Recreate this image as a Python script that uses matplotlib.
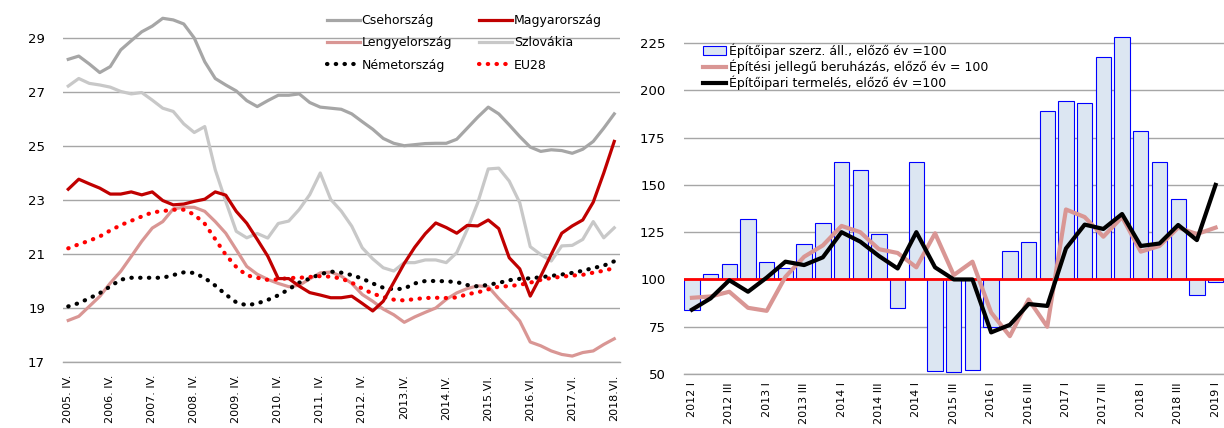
import numpy as np
import matplotlib
matplotlib.use("Agg")
import matplotlib.pyplot as plt
from matplotlib import font_manager
from matplotlib.patches import Patch
from matplotlib.lines import Line2D

# ---------------- data: left chart ----------------
left_ticklabels = ['2005. IV.', '2006. IV.', '2007. IV.', '2008. IV.', '2009. IV.',
                   '2010. IV.', '2011. IV.', '2012. IV.', '2013.IV.', '2014.IV.',
                   '2015.VI.', '2016.VI.', '2017.VI.', '2018.VI.']
cseh = [28.21, 28.33, 28.04, 27.72, 27.94, 28.56, 28.9, 29.23, 29.44, 29.73,
        29.67, 29.52, 29.0, 28.12, 27.5, 27.26, 27.04, 26.68, 26.46, 26.68,
        26.88, 26.88, 26.93, 26.61, 26.44, 26.4, 26.36, 26.19, 25.9, 25.62,
        25.28, 25.1, 25.01, 25.05, 25.09, 25.1, 25.1, 25.25, 25.66, 26.07,
        26.44, 26.19, 25.78, 25.35, 24.96, 24.8, 24.86, 24.83, 24.73, 24.88,
        25.17, 25.66, 26.19]
magyar = [23.4, 23.77, 23.6, 23.44, 23.22, 23.22, 23.3, 23.19, 23.3, 22.98,
          22.82, 22.85, 22.95, 23.03, 23.3, 23.18, 22.58, 22.14, 21.54, 20.92,
          20.09, 20.09, 19.81, 19.57, 19.48, 19.38, 19.38, 19.44, 19.17, 18.89,
          19.25, 19.95, 20.65, 21.25, 21.75, 22.15, 21.98, 21.77, 22.06, 22.04,
          22.26, 21.94, 20.86, 20.45, 19.44, 20.18, 20.99, 21.77, 22.04, 22.26,
          22.92, 24.0, 25.17]
lengyel = [18.54, 18.69, 19.06, 19.43, 19.92, 20.36, 20.91, 21.47, 21.96, 22.2,
           22.67, 22.73, 22.73, 22.58, 22.2, 21.77, 21.16, 20.54, 20.25, 20.06,
           19.91, 19.79, 19.84, 20.08, 20.3, 20.33, 20.18, 19.91, 19.5, 19.25,
           18.96, 18.75, 18.47, 18.67, 18.84, 19.0, 19.32, 19.56, 19.72, 19.82,
           19.79, 19.35, 18.95, 18.52, 17.74, 17.6, 17.41, 17.28, 17.22, 17.35,
           17.41, 17.65, 17.86]
szlovak = [27.22, 27.5, 27.32, 27.26, 27.18, 27.02, 26.93, 26.98, 26.7, 26.4,
           26.28, 25.82, 25.5, 25.72, 24.12, 22.95, 21.84, 21.6, 21.76, 21.59,
           22.13, 22.22, 22.65, 23.2, 24.0, 23.02, 22.59, 22.03, 21.23, 20.82,
           20.49, 20.37, 20.68, 20.68, 20.78, 20.78, 20.68, 21.05, 21.91, 22.9,
           24.15, 24.18, 23.7, 22.9, 21.27, 20.98, 20.74, 21.3, 21.32, 21.54,
           22.2, 21.6, 21.97]
nemet = [19.06, 19.18, 19.36, 19.55, 19.8, 20.05, 20.12, 20.12, 20.12, 20.12,
         20.22, 20.32, 20.3, 20.11, 19.83, 19.5, 19.21, 19.1, 19.17, 19.3,
         19.47, 19.69, 19.94, 20.09, 20.25, 20.35, 20.31, 20.22, 20.09, 19.91,
         19.75, 19.69, 19.72, 19.91, 20.0, 20.0, 19.99, 19.96, 19.85, 19.8,
         19.86, 19.93, 20.03, 20.08, 20.1, 20.14, 20.19, 20.24, 20.3, 20.38,
         20.48, 20.57, 20.73]
eu28 = [21.21, 21.36, 21.49, 21.65, 21.87, 22.07, 22.23, 22.39, 22.54, 22.59,
        22.64, 22.64, 22.46, 22.12, 21.55, 20.97, 20.52, 20.21, 20.12, 20.04,
        20.06, 20.11, 20.12, 20.15, 20.18, 20.16, 20.09, 19.94, 19.72, 19.53,
        19.41, 19.31, 19.28, 19.33, 19.37, 19.38, 19.37, 19.39, 19.51, 19.58,
        19.69, 19.79, 19.81, 19.86, 19.94, 20.04, 20.11, 20.16, 20.2, 20.23,
        20.31, 20.38, 20.48]
left_yticks = [17, 19, 21, 23, 25, 27, 29]

# ---------------- data: right chart ----------------
right_ticklabels = ['2012 I', '2012 III', '2013 I', '2013 III', '2014 I', '2014 III',
                    '2014 I', '2015 III', '2016 I', '2016 III', '2017 I', '2017 III',
                    '2018 I', '2018 III', '2019 I']
szerz_all = [84, 103, 108, 132, 109, 106, 119, 130, 162, 158, 124, 85, 162, 51.5, 51,
             52, 75, 115, 120, 189, 194.5, 193.5, 217.5, 228, 178.5, 162, 142.5, 92, 98.5]
beruhazas = [90.3, 91, 93.5, 85, 83.4, 101.4, 112, 118, 128.3, 125, 116, 114, 106.4,
             124.4, 102.3, 109.4, 82.5, 70, 89.4, 75, 137, 133, 122.6, 133, 114.7,
             117.7, 127.4, 124, 127.4]
termeles = [84, 90, 99.6, 93.5, 101, 109.4, 107.6, 111.7, 125, 120, 112.4, 105.8, 125,
            106.4, 100, 100, 72, 76, 87, 86, 116.4, 129, 126.7, 134.6, 117.7, 119,
            128.8, 120.8, 150]
right_yticks = [50, 75, 100, 125, 150, 175, 200, 225]

# ---------------- fonts ----------------
names = {f.name for f in font_manager.fontManager.ttflist}
narrow = 'Liberation Sans Narrow' in names
tick_font = 'Liberation Sans Narrow' if narrow else 'DejaVu Sans'
ytick_size = 11 if narrow else 9.5
xtick_size = 9.5 if narrow else 8.0
plt.rcParams['font.family'] = ['DejaVu Sans']

W, H = 1224, 428
fig = plt.figure(figsize=(W / 100, H / 100), dpi=100)


def px_axes(l, t, r, b):
    return fig.add_axes([l / W, 1 - b / H, (r - l) / W, (b - t) / H])


GRID = '#a6a6a6'


def style_axes(ax):
    for s in ['left', 'right', 'top']:
        ax.spines[s].set_visible(False)
    ax.spines['bottom'].set_color(GRID)
    ax.spines['bottom'].set_linewidth(1.0)
    ax.yaxis.grid(True, color=GRID, linewidth=1.0)
    ax.set_axisbelow(True)
    ax.tick_params(length=0)


# ---------------- left chart ----------------
ax1 = px_axes(63, 11, 619.5, 362)
x1 = np.arange(len(cseh))
lw = 2.3
dot = dict(linestyle=(0, (0.1, 2.0)), dash_capstyle='round', linewidth=3.0)
ax1.plot(x1, cseh, color='#a6a6a6', lw=lw, label='Csehország', zorder=3)
ax1.plot(x1, lengyel, color='#d99694', lw=lw, label='Lengyelország', zorder=3)
ax1.plot(x1, nemet, color='black', label='Németország', zorder=4, **dot)
ax1.plot(x1, magyar, color='#c00000', lw=lw, label='Magyarország', zorder=5)
ax1.plot(x1, szlovak, color='#c8c8c8', lw=lw, label='Szlovákia', zorder=2)
ax1.plot(x1, eu28, color='#ff0000', label='EU28', zorder=4, **dot)
ax1.set_xlim(-0.5, 52.5)
ax1.set_ylim(17, 30)
ax1.set_yticks(left_yticks)
ax1.set_xticks(np.arange(0, len(cseh), 4))
ax1.set_xticklabels(left_ticklabels, rotation=90, fontfamily=tick_font, fontsize=xtick_size)
for t in ax1.get_yticklabels():
    t.set_fontfamily(tick_font)
    t.set_fontsize(ytick_size)
style_axes(ax1)
ax1.tick_params(axis='y', pad=13)
ax1.tick_params(axis='x', pad=9)

h, l = ax1.get_legend_handles_labels()
leg1 = ax1.legend(h, l, ncol=2, loc='upper left',
                  bbox_to_anchor=(327 / W, 1 - 14 / H), bbox_transform=fig.transFigure,
                  frameon=False, fontsize=9, handlelength=2.6, handletextpad=0.15,
                  columnspacing=2.2, labelspacing=0.75, borderpad=0, borderaxespad=0)

# ---------------- right chart ----------------
ax2 = px_axes(683.5, 14.7, 1224, 374)
x2 = np.arange(len(szerz_all))
ax2.bar(x2, np.array(szerz_all) - 100, bottom=100, width=0.82, color='#dce6f2',
        edgecolor='#0000ff', linewidth=0.8, zorder=2)
ax2.axhline(100, color='#ff0000', lw=2.0, zorder=3)
ax2.plot(x2, beruhazas, color='#d99694', lw=3.0, zorder=4)
ax2.plot(x2, termeles, color='black', lw=3.0, zorder=5)
ax2.set_xlim(-0.45, 28.45)
ax2.set_ylim(50, 240)
ax2.set_yticks(right_yticks)
ax2.set_xticks(np.arange(0, len(szerz_all), 2))
ax2.set_xticklabels(right_ticklabels, rotation=90, fontfamily=tick_font, fontsize=xtick_size)
for t in ax2.get_yticklabels():
    t.set_fontfamily(tick_font)
    t.set_fontsize(ytick_size)
style_axes(ax2)
ax2.tick_params(axis='y', pad=13)
ax2.tick_params(axis='x', pad=6)

h2 = [Patch(facecolor='#dce6f2', edgecolor='#0000ff', linewidth=0.8),
      Line2D([], [], color='#d99694', lw=3.0),
      Line2D([], [], color='black', lw=3.0)]
l2 = ['Építőipar szerz. áll., előző év =100',
      'Építési jellegű beruházás, előző év = 100',
      'Építőipari termelés, előző év =100']
ax2.legend(h2, l2, loc='upper left', bbox_to_anchor=(703 / W, 1 - 43 / H),
           bbox_transform=fig.transFigure, frameon=False, fontsize=9,
           handlelength=1.8, handleheight=0.7, handletextpad=0.25,
           labelspacing=0.15, borderpad=0, borderaxespad=0)

fig.savefig('out.png', dpi=100)
